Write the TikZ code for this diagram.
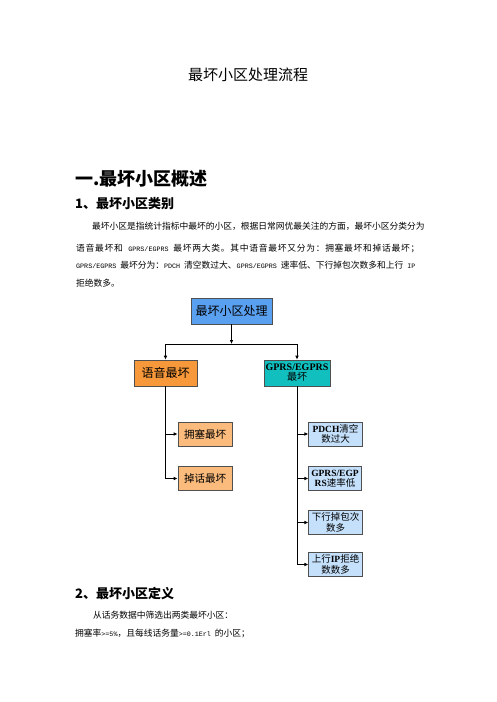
\documentclass[tikz,border=0pt]{standalone}
\usepackage{fontspec}
\setmainfont{Liberation Serif}
\newfontfamily\cjk{Noto Sans CJK SC}
\newfontfamily\mono{Liberation Mono}
\usetikzlibrary{arrows.meta}
\definecolor{cblue}{HTML}{5AA0F0}
\definecolor{corange}{HTML}{F7983A}
\definecolor{clorange}{HTML}{FBBB7D}
\definecolor{cteal}{HTML}{12BFBF}
\definecolor{clblue}{HTML}{C5E0FB}
\definecolor{cborder}{HTML}{505050}
\makeatletter
\def\cjsp#1{\cjsp@loop#1\@nil}
\def\cjsp@loop#1{\ifx#1\@nil\else#1\hskip0pt plus 1pt\relax\expandafter\cjsp@loop\fi}
\makeatother
\newcommand{\bt}[1]{{\cjk\fontsize{8.75pt}{10pt}\selectfont\cjsp{#1}}}
\newcommand{\mt}[1]{{\mono\fontsize{6.7pt}{10pt}\selectfont #1}}
\newcommand{\msp}{\hskip 4pt plus 1pt\relax}
\begin{document}
\begin{tikzpicture}[x=1pt,y=-1pt,
  box/.style={draw=cborder,line width=0.6pt,inner sep=0pt,align=center},
  conn/.style={line width=0.8pt,black},
  arr/.style={conn,-{Latex[length=4pt,width=3.6pt]}},
  txt/.style={anchor=west,inner sep=0pt}]
\useasboundingbox (0,0) rectangle (496,702);
\fill[white] (0,0) rectangle (496,702);

% title and headings
\node[inner sep=0pt] (title) at (248,75) {\cjk\fontsize{15pt}{18pt}\selectfont 最坏小区处理流程};
\node[txt] (h1) at (75,179) {\cjk\bfseries\fontsize{18pt}{20pt}\selectfont 一.最坏小区概述};
\node[txt] (h2) at (75,203.3) {\cjk\bfseries\fontsize{13pt}{15pt}\selectfont 1、最坏小区类别};

% paragraph
\node[txt] (p1) at (92,226) {\makebox[329pt][s]{\bt{最坏小区是指统计指标中最坏的小区，根据日常网优最关注的方面，最坏小区分类分为}}};
\node[txt] (p2) at (76,248.7) {\makebox[344pt][s]{\bt{语音最坏和}\msp\mt{GPRS/EGPRS}\msp\bt{最坏两大类。其中语音最坏又分为：拥塞最坏和掉话最坏；}}};
\node[txt] (p3) at (76,265.3) {\makebox[337pt][s]{\mt{GPRS/EGPRS}\msp\bt{最坏分为：}\mt{PDCH}\msp\bt{清空数过大、}\mt{GPRS/EGPRS}\msp\bt{速率低、下行掉包次数多和上行}\msp\mt{IP}}};
\node[txt] (p4) at (76,282.7) {\bt{拒绝数多。}};

% diagram boxes
\node[box,fill=cblue,minimum width=81pt,minimum height=26pt,
  font=\cjk\fontsize{12pt}{14pt}\selectfont] (top) at (231.5,311) {最坏小区处理};
\node[box,fill=corange,minimum width=63pt,minimum height=26pt,
  font=\cjk\fontsize{12pt}{14pt}\selectfont] (voice) at (165.5,373) {语音最坏};
\node[box,fill=cteal,minimum width=66pt,minimum height=26pt,
  font=\fontsize{10pt}{11pt}\selectfont] (gprs) at (297,373)
  {\textbf{GPRS/EGPRS}\\[-1pt]{\cjk 最坏}};
\node[box,fill=clorange,minimum width=54pt,minimum height=24pt,
  font=\cjk\fontsize{10.5pt}{12pt}\selectfont] (ys) at (205,434) {拥塞最坏};
\node[box,fill=clorange,minimum width=54pt,minimum height=23.5pt,
  font=\cjk\fontsize{10.5pt}{12pt}\selectfont] (dh) at (205,478.5) {掉话最坏};
\node[box,fill=clblue,minimum width=53.5pt,minimum height=24pt,
  font=\fontsize{9.5pt}{10.5pt}\selectfont] (pdch) at (335.5,434)
  {\textbf{PDCH}{\cjk 清空}\\{\cjk 数过大}};
\node[box,fill=clblue,minimum width=52.5pt,minimum height=23.5pt,
  font=\fontsize{9.5pt}{10.5pt}\selectfont] (rate) at (335,478.5)
  {\textbf{GPRS/EGP}\\\textbf{RS}{\cjk 速率低}};
\node[box,fill=clblue,minimum width=53.5pt,minimum height=23.5pt,
  font=\cjk\fontsize{9.5pt}{10.5pt}\selectfont] (down) at (335.5,522.5)
  {下行掉包次\\数多};
\node[box,fill=clblue,minimum width=53.5pt,minimum height=23.5pt,
  font=\fontsize{9.5pt}{10.5pt}\selectfont] (up) at (335.5,564.5)
  {{\cjk 上行}\textbf{IP}{\cjk 拒绝}\\{\cjk 数数多}};

% connectors
\coordinate (j) at (231.5,344);
\draw[arr] (top.south) -- (j);
\draw[arr] (j) -| (voice.north);
\draw[arr] (j) -| (gprs.north);
\draw[arr] (voice.south) |- (ys.west);
\draw[arr] (voice.south) |- (dh.west);
\draw[arr] (gprs.south) |- (pdch.west);
\draw[arr] (gprs.south) |- (rate.west);
\draw[arr] (gprs.south) |- (down.west);
\draw[arr] (gprs.south) |- (up.west);

% section 2
\node[txt] (h3) at (75,593.3) {\cjk\bfseries\fontsize{13pt}{15pt}\selectfont 2、最坏小区定义};
\node[txt] (q1) at (93,615) {\bt{从话务数据中筛选出两类最坏小区：}};
\node[txt] (q2) at (75,633.3) {\bt{拥塞率}\mt{>=5\%}\bt{，且每线话务量}\mt{>=0.1Erl}\msp\bt{的小区；}};
\end{tikzpicture}
\end{document}
